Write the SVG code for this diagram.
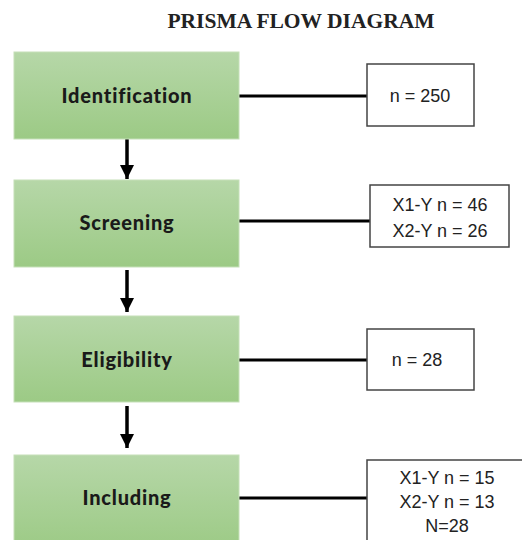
<svg xmlns="http://www.w3.org/2000/svg" width="522" height="540" viewBox="0 0 522 540">
<defs>
<linearGradient id="g" x1="0" y1="0" x2="0" y2="1">
<stop offset="0" stop-color="#b6d7a8"/>
<stop offset="1" stop-color="#9cca85"/>
</linearGradient>
<marker id="ah" markerWidth="4" markerHeight="4" refX="4" refY="2" orient="auto" markerUnits="strokeWidth">
<path d="M0,0 L4,2 L0,4 Z" fill="#000"/>
</marker>
<style>
.step{fill:url(#g);stroke:#c5e0b8;stroke-width:1}
.lbl{font-family:Lato,"DejaVu Sans",sans-serif;font-weight:900;font-size:20px;letter-spacing:0.8px;fill:#1a1a1a;text-anchor:middle}
.cnt{fill:#fff;stroke:#444;stroke-width:1.5}
.ct{font-family:"Liberation Sans",Arial,sans-serif;font-size:18px;fill:#222;text-anchor:middle}
.ln{stroke:#000;stroke-width:3;fill:none}
.ar{stroke:#000;stroke-width:3.5;fill:none;marker-end:url(#ah)}
</style>
</defs>
<rect width="522" height="540" fill="#fff"/>
<text x="301" y="28" font-family="'Liberation Serif','Times New Roman',serif" font-weight="bold" font-size="21.5" text-anchor="middle" fill="#222">PRISMA FLOW DIAGRAM</text>
<g id="connectors">
<line class="ln" x1="239" y1="96" x2="367" y2="96"/>
<line class="ln" x1="239" y1="221" x2="370" y2="221"/>
<line class="ln" x1="239" y1="360" x2="367" y2="360"/>
<line class="ln" x1="239" y1="498" x2="367" y2="498"/>
<line class="ar" x1="127" y1="139" x2="127" y2="179"/>
<line class="ar" x1="127" y1="270" x2="127" y2="312"/>
<line class="ar" x1="127" y1="406" x2="127" y2="448"/>
</g>
<g id="identification"><rect class="step" x="14" y="52" width="225" height="87"/><text class="lbl" x="127" y="103">Identification</text></g>
<g id="screening"><rect class="step" x="14" y="180" width="225" height="87"/><text class="lbl" x="127" y="230">Screening</text></g>
<g id="eligibility"><rect class="step" x="14" y="316" width="225" height="86"/><text class="lbl" x="127" y="367">Eligibility</text></g>
<g id="including"><rect class="step" x="14" y="455" width="225" height="95"/><text class="lbl" x="127" y="505">Including</text></g>
<g id="n1"><rect class="cnt" x="367" y="64" width="107" height="62"/><text class="ct" x="420" y="102">n = 250</text></g>
<g id="n2"><rect class="cnt" x="370" y="185" width="139" height="62"/><text class="ct" x="440" y="211">X1-Y n = 46</text><text class="ct" x="440" y="237">X2-Y n = 26</text></g>
<g id="n3"><rect class="cnt" x="367" y="329" width="107" height="61"/><text class="ct" x="417" y="366">n = 28</text></g>
<g id="n4"><rect class="cnt" x="367" y="460" width="170" height="90"/><text class="ct" x="447" y="484">X1-Y n = 15</text><text class="ct" x="447" y="508">X2-Y n = 13</text><text class="ct" x="447" y="532">N=28</text></g>
</svg>
